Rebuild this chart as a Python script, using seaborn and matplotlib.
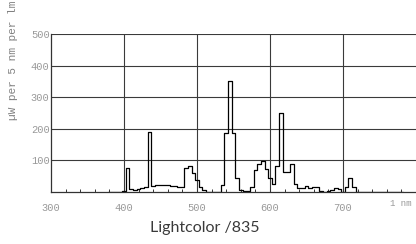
import numpy as np
import pandas as pd
import matplotlib
matplotlib.use("Agg")
import matplotlib.pyplot as plt
import seaborn as sns

# spectral power distribution, 5 nm bins (centre wavelength, value)
wavelength = list(range(380, 785, 5))
power = [1, 1, 1, 1, 2, 76, 8, 5, 9, 12,
         17, 189, 20, 22, 23, 23, 22, 20, 18, 17,
         17, 75, 83, 59, 38, 17, 6, 1, 1, 0,
         0, 22, 188, 352, 188, 44, 6, 3, 3, 15,
         70, 88, 98, 72, 45, 24, 82, 249, 64, 64,
         89, 24, 14, 14, 20, 12, 17, 17, 2, 1,
         4, 6, 12, 8, 1, 17, 43, 17, 1,
         1, 1, 1, 1, 1, 1, 1, 1, 1, 1, 1, 1]
x_ticks = [300, 400, 500, 600, 700]
y_ticks = [100, 200, 300, 400, 500]
title = "Lightcolor /835"
ylabel = "µW per 5 nm per lm"

df = pd.DataFrame({"nm": wavelength, "power": power})

sns.set_style("white")
fig = plt.figure(figsize=(4.16, 2.44), dpi=100)
ax = fig.add_axes([51 / 416, 1 - 192 / 244, 1 - 51 / 416, 158 / 244])

sns.histplot(data=df, x="nm", weights="power", binwidth=5,
             binrange=(df["nm"].min() - 2.5, df["nm"].max() + 2.5),
             element="step", fill=False, color="black", linewidth=0.9, ax=ax)

for v in y_ticks:
    ax.axhline(v, color="#3a3a3a", lw=0.8, zorder=0)
for v in x_ticks[1:]:
    ax.axvline(v, color="#3a3a3a", lw=0.8, zorder=0)

ax.set_xlim(300, 800)
ax.set_ylim(0, 500)
ax.set_xticks(x_ticks)
ax.set_xticks(np.arange(300, 800, 20), minor=True)
ax.set_yticks(y_ticks)
ax.tick_params(axis="x", which="both", direction="in", length=2.5, width=0.7,
               color="#333333", pad=8, labelsize=7.5, labelcolor="#999999",
               bottom=True)
ax.tick_params(axis="y", length=0, pad=1, labelsize=7.5, labelcolor="#999999")
for lab in ax.get_xticklabels() + ax.get_yticklabels():
    lab.set_family("Liberation Mono")

ax.set_xlabel("")
ax.set_ylabel("")
for s in ["top", "right"]:
    ax.spines[s].set_visible(False)
ax.spines["left"].set_color("#333333")
ax.spines["bottom"].set_color("#333333")
ax.spines["left"].set_linewidth(0.9)
ax.spines["bottom"].set_linewidth(0.9)

ax.text(764, -0.07, "1 nm", transform=ax.get_xaxis_transform(), ha="left",
        va="center", fontsize=6.5, color="#999999", family="Liberation Mono")

fig.text(13 / 416, 1 - 120 / 244, ylabel, rotation=90, ha="center", va="bottom",
         fontsize=8, color="#808080", family="Liberation Mono")
fig.text(205 / 416, 1 - 228 / 244, title, ha="center", va="center",
         fontsize=11.5, color="#3a3a3a", family="Lato")

fig.savefig("out.png", dpi=100)
